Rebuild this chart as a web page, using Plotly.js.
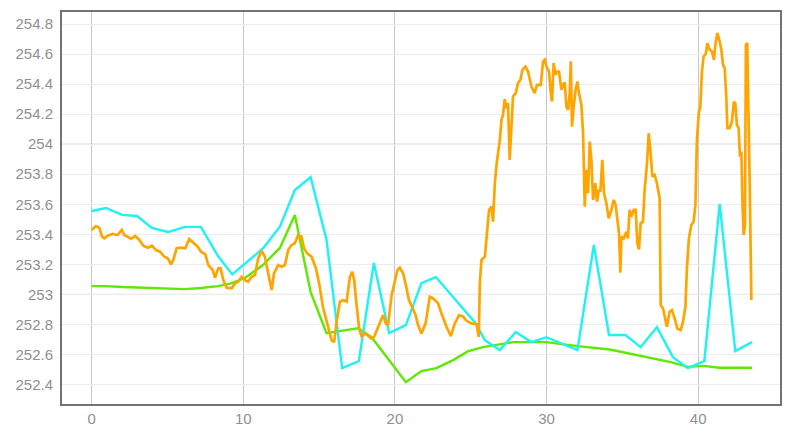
<!DOCTYPE html>
<html>
<head>
<meta charset="utf-8">
<script src="https://cdn.plot.ly/plotly-3.0.1.min.js"></script>
<style>
    html, body { margin: 0; padding: 0; background: white; }
    #chart { width: 796px; height: 433px; }
</style>
</head>
<body>
<div id="chart"></div>
<script>
// Orange series (dense, noisy)
let orangeX = [
    0, 0.28, 0.50, 0.68, 0.83, 1.05, 1.38, 1.71, 1.98, 2.15, 2.37, 2.59, 2.87, 3.14, 3.40, 3.69, 3.97,
    4.24, 4.50, 4.79, 5.01, 5.23, 5.38, 5.60, 5.89, 6.17, 6.43, 6.70, 6.99, 7.21, 7.49,
    7.69, 7.98, 8.13, 8.35, 8.50, 8.68, 8.90, 9.23, 9.45, 9.66, 9.89, 10.11, 10.32, 10.55, 10.77,
    10.98, 11.21, 11.42, 11.64, 11.87, 12.02, 12.30, 12.52, 12.74, 12.96, 13.18, 13.40, 13.62,
    13.84, 14.00, 14.21, 14.50, 14.79, 15.00,
    15.27, 15.60, 15.82, 15.99, 16.15, 16.37, 16.59, 16.81, 17.03, 17.18, 17.31, 17.47, 17.64,
    17.80, 17.97, 18.19, 18.41, 18.63, 18.85, 19.07, 19.22, 19.40, 19.55, 19.78, 19.99, 20.17,
    20.32, 20.54, 20.72, 20.92, 21.13, 21.36, 21.53, 21.75, 22.02, 22.30, 22.52,
    22.63, 22.85, 23.07, 23.40, 23.69, 23.95, 24.23, 24.50, 24.72, 25.05, 25.38, 25.53, 25.60,
    25.71, 25.93, 26.04, 26.21, 26.37, 26.47, 26.59, 26.70, 26.92, 27.03, 27.13, 27.24, 27.35,
    27.46, 27.57, 27.69, 27.79, 27.97, 28.12, 28.28, 28.41, 28.61, 28.78, 29.00, 29.22, 29.37,
    29.62, 29.77,
    29.88, 30.03, 30.16, 30.28, 30.36, 30.47, 30.59, 30.69, 30.82, 30.98, 31.09, 31.20, 31.31,
    31.42, 31.53, 31.60, 31.68, 31.79, 31.92, 32.04, 32.14, 32.30, 32.41, 32.52, 32.63, 32.74,
    32.85, 32.96, 33.07, 33.22, 33.33, 33.44, 33.55, 33.68, 33.79, 33.95, 34.10, 34.28, 34.43,
    34.56, 34.65, 34.78, 34.87, 34.94, 35.09, 35.27, 35.37, 35.48, 35.60, 35.75, 35.88, 35.99,
    36.10, 36.21, 36.36, 36.47, 36.63, 36.74, 36.85, 36.98, 37.13, 37.28,
    37.46, 37.53, 37.68, 37.79, 37.94, 38.12, 38.27, 38.45, 38.63, 38.85, 39.00, 39.16, 39.26,
    39.39, 39.55, 39.70, 39.82, 39.92, 40.05, 40.14, 40.25, 40.36, 40.50, 40.61, 40.76, 40.91,
    41.04, 41.15, 41.27, 41.42, 41.53, 41.64, 41.75, 41.86, 41.93, 42.08, 42.23, 42.36, 42.45,
    42.56, 42.67, 42.76, 42.85, 42.93, 43.00, 43.09, 43.15, 43.24, 43.33, 43.41, 43.51
];
let orangeY = [
    253.429, 253.455, 253.444, 253.384, 253.373, 253.391, 253.402, 253.395, 253.429, 253.395,
    253.384, 253.369, 253.389, 253.362, 253.324, 253.311, 253.324,
    253.295, 253.284, 253.251, 253.240, 253.200, 253.229, 253.307, 253.311, 253.307, 253.369,
    253.347, 253.317, 253.284, 253.267,
    253.195, 253.162, 253.111, 253.173, 253.173, 253.095, 253.044, 253.040, 253.073, 253.084,
    253.117, 253.095, 253.084, 253.117, 253.129,
    253.240, 253.289, 253.251, 253.140, 253.029, 253.140, 253.195, 253.184, 253.195, 253.295,
    253.329, 253.340, 253.395,
    253.384, 253.307, 253.273, 253.251, 253.173, 253.073,
    252.907, 252.784, 252.695, 252.682, 252.817, 252.951, 252.962, 252.951, 253.117, 253.151,
    253.095, 252.929, 252.773,
    252.717, 252.740, 252.729, 252.707, 252.717, 252.773, 252.829, 252.862, 252.807, 252.795,
    252.995, 253.095, 253.162,
    253.177, 253.140, 253.062, 252.962, 252.917, 252.862, 252.795, 252.740, 252.807, 252.984,
    252.973,
    252.962, 252.940, 252.873, 252.784, 252.722, 252.807, 252.862, 252.851, 252.824, 252.807,
    252.802, 252.717, 253.073,
    253.229, 253.251, 253.384, 253.562, 253.584, 253.484, 253.740, 253.862, 254.029, 254.162,
    254.195, 254.300, 254.240,
    254.273, 253.895, 254.162, 254.317, 254.340, 254.407, 254.429, 254.495, 254.517, 254.484,
    254.384, 254.340, 254.395,
    254.395, 254.551,
    254.562, 254.507, 254.484, 254.340, 254.284, 254.540, 254.462, 254.484, 254.484, 254.362,
    254.395, 254.411, 254.251,
    254.229, 254.340, 254.551, 254.117, 254.251, 254.362, 254.417, 254.340, 254.262, 254.073,
    253.584, 253.829, 253.673,
    254.017, 253.895, 253.629, 253.740, 253.617, 253.695, 253.684, 253.895, 253.673, 253.607,
    253.507, 253.562, 253.629,
    253.595, 253.517, 253.407, 253.144, 253.384, 253.373, 253.417, 253.373, 253.562, 253.517,
    253.562, 253.562, 253.340,
    253.300, 253.473, 253.484, 253.695, 253.873, 254.073, 253.962, 253.784, 253.795, 253.740,
    253.640, 252.929, 252.907, 252.862, 252.784, 252.884, 252.895, 252.840, 252.773, 252.762,
    252.817, 252.917, 253.173,
    253.373, 253.462, 253.484, 253.595, 254.029, 254.217, 254.240, 254.484, 254.584, 254.600,
    254.673, 254.629, 254.617,
    254.562, 254.673, 254.740, 254.684, 254.629, 254.529, 254.507, 254.307, 254.107, 254.107,
    254.151, 254.284, 254.273,
    254.129, 254.107, 253.917, 253.951, 253.595, 253.395, 253.462, 254.662, 254.673, 253.951,
    253.684, 252.962
];

// Cyan series
let cyanX = [
    0, 0.94, 2.00, 2.99, 3.97, 5.03, 6.15, 7.20, 8.33, 9.27, 11.31, 12.41, 13.40, 14.44, 15.49,
    16.52, 17.62, 18.61, 19.62, 20.72, 21.75, 22.70, 25.31, 25.93, 26.92, 27.97, 29.00, 29.99,
    32.04, 33.12, 34.12, 35.20, 36.21, 37.28, 38.34, 39.33, 40.41, 41.42, 42.45, 43.55
];
let cyanY = [
    253.555, 253.575, 253.529, 253.522, 253.442, 253.415, 253.449, 253.449, 253.255, 253.133,
    253.307, 253.451, 253.695, 253.780, 253.362, 252.509, 252.555, 253.209, 252.742, 252.795,
    253.075, 253.115, 252.809, 252.695, 252.629, 252.749, 252.682, 252.715, 252.629, 253.329,
    252.729, 252.729, 252.649, 252.782, 252.582, 252.509, 252.555, 253.602, 252.622, 252.682
];

// Green series (smooth)
let greenX = [
    0, 0.94, 2.00, 3.97, 5.03, 6.15, 7.20, 8.33, 9.25, 10.11, 11.29, 12.41, 13.40, 14.44, 15.49,
    17.57, 18.46, 20.72, 21.75, 22.74, 23.84, 24.83, 25.81, 27.79, 29.99, 32.04, 34.17, 35.27,
    36.15, 38.12, 39.33, 40.32, 41.42, 43.55
];
let greenY = [
    253.055, 253.055, 253.049, 253.042, 253.042, 253.035, 253.042, 253.055, 253.075, 253.109,
    253.195, 253.309, 253.529, 253.015, 252.742, 252.775, 252.715, 252.415, 252.489, 252.509,
    252.562, 252.622, 252.649, 252.682, 252.682, 252.655, 252.633, 252.609, 252.589, 252.551,
    252.517, 252.524, 252.511, 252.511
];

// Axis ticks
let xTicks = [0, 10, 20, 30, 40];
let yTicks = [252.4, 252.6, 252.8, 253, 253.2, 253.4, 253.6, 253.8, 254, 254.2, 254.4, 254.6, 254.8];
let yTickText = ['252.4', '252.6', '252.8', '253', '253.2', '253.4', '253.6', '253.8', '254', '254.2', '254.4', '254.6', '254.8'];
let yMajor = [253, 254];

function lineTrace(x, y, color, width) {
    return {
        x: x,
        y: y,
        mode: 'lines',
        type: 'scatter',
        line: { color: color, width: width },
        hoverinfo: 'none'
    };
}

function drawChart() {
    let traces = [
        lineTrace(greenX, greenY, '#5fe800', 2.4),
        lineTrace(cyanX, cyanY, '#1ef2f2', 2.4),
        lineTrace(orangeX, orangeY, '#ffa500', 2.7)
    ];

    // Darker grid lines at whole numbers
    let shapes = yMajor.map(v => ({
        type: 'line', xref: 'paper', x0: 0, x1: 1, yref: 'y', y0: v, y1: v,
        line: { color: '#c4c4c4', width: 1 }, layer: 'below'
    }));

    let tickFont = { family: 'Liberation Sans, Arial, sans-serif', size: 15, color: '#909090' };

    let layout = {
        width: 796,
        height: 433,
        autosize: false,
        margin: { l: 62, r: 16, t: 12, b: 29, pad: 0 },
        showlegend: false,
        paper_bgcolor: 'white',
        plot_bgcolor: 'white',
        xaxis: {
            range: [-1.96, 45.4],
            tickvals: xTicks,
            ticks: '',
            tickfont: tickFont,
            showgrid: true,
            gridcolor: '#c8c8c8',
            gridwidth: 1,
            zeroline: false,
            showline: true,
            linecolor: '#737373',
            linewidth: 2,
            mirror: true,
            fixedrange: true
        },
        yaxis: {
            range: [252.27, 254.88],
            tickvals: yTicks,
            ticktext: yTickText,
            ticks: '',
            tickfont: tickFont,
            ticklabelstandoff: 4,
            showgrid: true,
            gridcolor: '#ececec',
            gridwidth: 1,
            zeroline: false,
            showline: true,
            linecolor: '#737373',
            linewidth: 2,
            mirror: true,
            fixedrange: true
        },
        shapes: shapes
    };

    Plotly.newPlot('chart', traces, layout, { displayModeBar: false, staticPlot: true });
}

document.addEventListener('DOMContentLoaded', drawChart);
</script>
</body>
</html>
